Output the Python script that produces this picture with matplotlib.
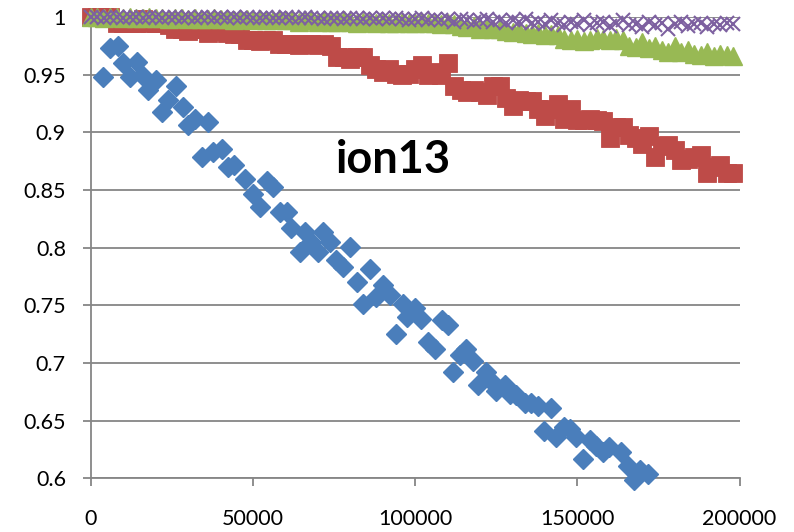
import matplotlib
matplotlib.use("Agg")
import matplotlib.pyplot as plt

plt.rcParams['font.family'] = ['Lato', 'DejaVu Sans']

# ---- data ----
blue_x = [3800, 5900, 8400, 10000, 12000, 14100, 15600, 17700, 20200, 21800,
          23800, 26200, 28400, 30000, 32000, 34100, 36200, 37700, 40300, 42300,
          44000, 47500, 50000, 52100, 54400, 56200, 58200, 60300, 61800, 64400,
          66000, 68000, 70000, 71600, 73700, 75700, 77800, 79800, 81900, 83900,
          86000, 88000, 90100, 92100, 94000, 96200, 97600, 99800, 101900, 104000,
          106000, 108100, 110100, 111700, 113700, 115800, 117800, 119400, 121900, 123000,
          125000, 127600, 129100, 131200, 133700, 135800, 137800, 139700, 142000, 143500,
          145800, 147600, 149700, 151700, 153800, 155800, 157900, 159900, 163500, 165600,
          167600, 169200, 171800]
blue_y = [0.948, 0.973, 0.975, 0.960, 0.948, 0.961, 0.950, 0.937, 0.945, 0.918,
          0.928, 0.940, 0.922, 0.906, 0.912, 0.879, 0.909, 0.883, 0.886, 0.870,
          0.872, 0.860, 0.847, 0.835, 0.858, 0.853, 0.831, 0.831, 0.817, 0.796,
          0.814, 0.805, 0.796, 0.814, 0.805, 0.789, 0.783, 0.801, 0.770, 0.751,
          0.782, 0.757, 0.768, 0.759, 0.725, 0.751, 0.740, 0.748, 0.738, 0.718,
          0.712, 0.737, 0.733, 0.692, 0.707, 0.712, 0.702, 0.681, 0.692, 0.685,
          0.676, 0.681, 0.673, 0.672, 0.665, 0.665, 0.663, 0.641, 0.661, 0.636,
          0.645, 0.643, 0.636, 0.617, 0.633, 0.628, 0.623, 0.627, 0.623, 0.611,
          0.599, 0.607, 0.604]

steps = list(range(0, 200000, 2000))

red_y = [1.000, 1.000, 1.000, 1.000, 0.995, 0.995, 0.995, 0.995, 0.998, 0.995,
         0.995, 0.995, 0.993, 0.990, 0.990, 0.988, 0.990, 0.990, 0.986, 0.990,
         0.988, 0.986, 0.985, 0.985, 0.980, 0.980, 0.979, 0.980, 0.980, 0.977,
         0.977, 0.977, 0.976, 0.977, 0.977, 0.976, 0.977, 0.975, 0.965, 0.965,
         0.964, 0.965, 0.965, 0.958, 0.955, 0.952, 0.955, 0.951, 0.950, 0.951,
         0.955, 0.958, 0.950, 0.952, 0.950, 0.960, 0.940, 0.937, 0.935, 0.937,
         0.935, 0.932, 0.940, 0.940, 0.930, 0.923, 0.928, 0.927, 0.927, 0.920,
         0.914, 0.920, 0.925, 0.912, 0.920, 0.911, 0.911, 0.912, 0.911, 0.910,
         0.895, 0.905, 0.905, 0.898, 0.895, 0.890, 0.897, 0.879, 0.888, 0.889,
         0.885, 0.876, 0.877, 0.879, 0.880, 0.865, 0.870, 0.872, 0.865, 0.865]

green_y = [1.000, 1.000, 0.999, 1.000, 1.000, 0.999, 1.000, 0.999, 0.999, 1.000,
           0.999, 0.999, 0.998, 0.999, 0.999, 0.998, 0.999, 0.998, 0.998, 0.999,
           0.998, 0.998, 0.997, 0.998, 0.998, 0.997, 0.998, 0.997, 0.997, 0.998,
           0.997, 0.997, 0.996, 0.997, 0.997, 0.996, 0.997, 0.996, 0.996, 0.997,
           0.996, 0.995, 0.996, 0.996, 0.995, 0.996, 0.995, 0.995, 0.996, 0.995,
           0.995, 0.996, 0.995, 0.995, 0.994, 0.995, 0.994, 0.992, 0.991, 0.992,
           0.990, 0.991, 0.990, 0.990, 0.988, 0.987, 0.988, 0.986, 0.985, 0.986,
           0.984, 0.985, 0.984, 0.981, 0.980, 0.981, 0.979, 0.980, 0.982, 0.981,
           0.980, 0.982, 0.980, 0.975, 0.974, 0.978, 0.973, 0.975, 0.971, 0.970,
           0.975, 0.970, 0.971, 0.968, 0.967, 0.970, 0.966, 0.968, 0.967, 0.966]

purple_y = [1.000, 1.000, 0.999, 1.000, 1.000, 0.999, 1.000, 1.000, 0.999, 1.000,
            1.000, 0.999, 1.000, 1.000, 0.999, 1.000, 0.999, 1.000, 1.000, 0.999,
            1.000, 0.999, 1.000, 0.999, 1.000, 0.999, 0.999, 1.000, 0.999, 0.999,
            1.000, 0.999, 0.999, 1.000, 0.999, 0.999, 0.998, 0.999, 0.999, 0.998,
            0.999, 0.999, 0.998, 0.999, 0.998, 0.999, 0.998, 0.999, 0.998, 0.997,
            0.998, 0.999, 0.997, 0.998, 0.997, 0.998, 0.996, 0.998, 0.997, 0.996,
            0.997, 0.998, 0.996, 0.997, 0.995, 0.997, 0.996, 0.998, 0.995, 0.996,
            0.994, 0.997, 0.995, 0.993, 0.996, 0.994, 0.997, 0.993, 0.995, 0.996,
            0.992, 0.995, 0.997, 0.993, 0.994, 0.991, 0.996, 0.993, 0.995, 0.990,
            0.994, 0.996, 0.992, 0.994, 0.995, 0.991, 0.994, 0.993, 0.995, 0.994]

y_ticks = [0.6, 0.65, 0.7, 0.75, 0.8, 0.85, 0.9, 0.95, 1.0]
y_labels = ['0.6', '0.65', '0.7', '0.75', '0.8', '0.85', '0.9', '0.95', '1']
x_ticks = [0, 50000, 100000, 150000, 200000]
x_labels = ['0', '50000', '100000', '150000', '200000']
title = 'ion13'

# ---- plot ----
fig = plt.figure(figsize=(7.94, 5.32), dpi=100)
ax = fig.add_axes([0.1146, 0.1006, 0.8168, 0.8674])

grey = '#868686'
ax.plot(blue_x, blue_y, linestyle='none', marker='D', ms=9.8,
        color='#4A7EBB', mec='#4A7EBB', clip_on=False, zorder=3)
ax.plot(steps, red_y, linestyle='none', marker='s', ms=13.4,
        color='#BE4B48', mec='#BE4B48', mew=0.6, clip_on=False, zorder=4)
ax.plot(steps, green_y, linestyle='none', marker='^', ms=13.5,
        color='#98B954', mec='#98B954', clip_on=False, zorder=5)
ax.plot(steps, purple_y, linestyle='none', marker='x', ms=9.5, mew=1.5,
        color='#7D60A0', clip_on=False, zorder=6)

ax.set_xlim(0, 200000)
ax.set_ylim(0.6, 1.0)
ax.set_yticks(y_ticks)
ax.set_yticklabels(y_labels)
ax.set_xticks(x_ticks)
ax.set_xticklabels(x_labels)

ax.yaxis.grid(True, color=grey, linewidth=1.3)
ax.set_axisbelow(True)
for s in ['top', 'right']:
    ax.spines[s].set_visible(False)
for s in ['left', 'bottom']:
    ax.spines[s].set_color(grey)
    ax.spines[s].set_linewidth(1.3)
ax.tick_params(axis='both', colors=grey, labelcolor='black', labelsize=15.5,
               length=6, width=1.3, direction='out')
ax.tick_params(axis='y', pad=12)
ax.tick_params(axis='x', pad=16)

ax.text(0.466, 0.69, title, transform=ax.transAxes, fontsize=32.5,
        fontweight='bold', ha='center', va='center', color='black')

fig.savefig('out.png', dpi=100)
